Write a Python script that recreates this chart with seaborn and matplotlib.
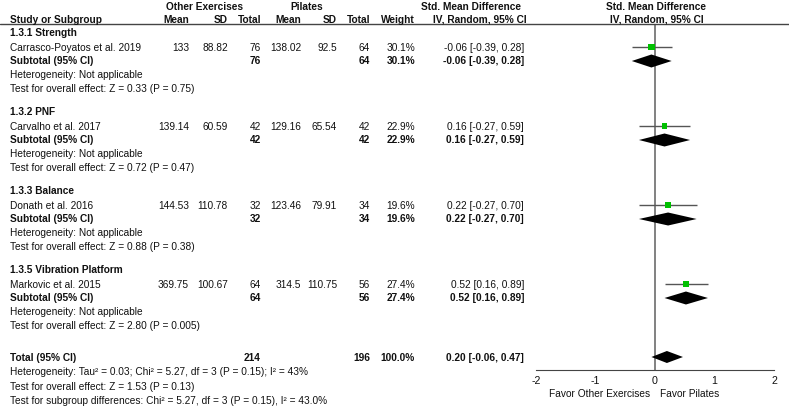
import numpy as np
import seaborn as sns
import matplotlib.pyplot as plt
from matplotlib.lines import Line2D

# Data
groups = ["1.3.1 Strength", "1.3.2 PNF", "1.3.3 Balance", "1.3.5 Vibration Platform"]
studies = ["Carrasco-Poyatos et al. 2019", "Carvalho et al. 2017",
           "Donath et al. 2016", "Markovic et al. 2015"]
oe_mean = [133, 139.14, 144.53, 369.75]
oe_sd = [88.82, 60.59, 110.78, 100.67]
oe_n = [76, 42, 32, 64]
pi_mean = [138.02, 129.16, 123.46, 314.5]
pi_sd = [92.5, 65.54, 79.91, 110.75]
pi_n = [64, 42, 34, 56]
weight = [30.1, 22.9, 19.6, 27.4]
smd = [-0.06, 0.16, 0.22, 0.52]
lo = [-0.39, -0.27, -0.27, 0.16]
hi = [0.28, 0.59, 0.70, 0.89]
z_tests = ["Z = 0.33 (P = 0.75)", "Z = 0.72 (P = 0.47)",
           "Z = 0.88 (P = 0.38)", "Z = 2.80 (P = 0.005)"]
total_n = [214, 196]
total_smd, total_lo, total_hi = 0.20, -0.06, 0.47
total_het = "Heterogeneity: Tau\u00b2 = 0.03; Chi\u00b2 = 5.27, df = 3 (P = 0.15); I\u00b2 = 43%"
total_test = "Test for overall effect: Z = 1.53 (P = 0.13)"
subgroup_test = "Test for subgroup differences: Chi\u00b2 = 5.27, df = 3 (P = 0.15), I\u00b2 = 43.0%"
ticks = [-2, -1, 0, 1, 2]

sns.set_style("white")
plt.rcParams['font.family'] = ['Liberation Sans', 'DejaVu Sans']
plt.rcParams['axes.unicode_minus'] = False
FS = 7.3

W, H = 789, 410
fig = plt.figure(figsize=(W / 100, H / 100), dpi=100)

# forest axes: x in effect units, y in pixel rows (top = 0)
x0, ppu = 655, 59.5
xl, xr = -2.15, 2.15
ax = fig.add_axes([(x0 + xl * ppu) / W, 0, (xr - xl) * ppu / W, 1])
ax.set_xlim(xl, xr)
ax.set_ylim(H, 0)


def txt(x, y, s, ha='left', bold=False):
    fig.text(x / W, 1 - y / H, s, ha=ha, va='center', fontsize=FS,
             fontweight='bold' if bold else 'normal', color='#111111')


def fmt(v):
    return f"{v:g}"


def ci(m, a, b):
    return f"{m:.2f} [{a:.2f}, {b:.2f}]"


# headers
txt(205, 7, "Other Exercises", ha='center', bold=True)
txt(307, 7, "Pilates", ha='center', bold=True)
txt(471, 7, "Std. Mean Difference", ha='center', bold=True)
txt(656, 7, "Std. Mean Difference", ha='center', bold=True)
txt(10, 20, "Study or Subgroup", bold=True)
for x, s in [(189, "Mean"), (228, "SD"), (261, "Total"), (301, "Mean"),
             (337, "SD"), (370, "Total"), (415, "Weight")]:
    txt(x, 20, s, ha='right', bold=True)
txt(480, 20, "IV, Random, 95% CI", ha='center', bold=True)
txt(657, 20, "IV, Random, 95% CI", ha='center', bold=True)
fig.add_artist(Line2D([0, 1], [1 - 25 / H] * 2, transform=fig.transFigure,
                      color='#444444', lw=1.0))

study_y = []
sub_y = []
for i, g in enumerate(groups):
    base = 33 + 79 * i
    sy, suby = base + 15, base + 28
    study_y.append(sy)
    sub_y.append(suby)
    txt(10, base, g, bold=True)
    txt(10, sy, studies[i])
    txt(189, sy, fmt(oe_mean[i]), ha='right')
    txt(228, sy, fmt(oe_sd[i]), ha='right')
    txt(261, sy, str(oe_n[i]), ha='right')
    txt(301, sy, fmt(pi_mean[i]), ha='right')
    txt(337, sy, fmt(pi_sd[i]), ha='right')
    txt(370, sy, str(pi_n[i]), ha='right')
    txt(415, sy, f"{weight[i]:.1f}%", ha='right')
    txt(524, sy, ci(smd[i], lo[i], hi[i]), ha='right')
    txt(10, suby, "Subtotal (95% CI)", bold=True)
    txt(261, suby, str(oe_n[i]), ha='right', bold=True)
    txt(370, suby, str(pi_n[i]), ha='right', bold=True)
    txt(415, suby, f"{weight[i]:.1f}%", ha='right', bold=True)
    txt(524, suby, ci(smd[i], lo[i], hi[i]), ha='right', bold=True)
    txt(10, base + 42, "Heterogeneity: Not applicable")
    txt(10, base + 56, "Test for overall effect: " + z_tests[i])

ty = 358
txt(10, ty, "Total (95% CI)", bold=True)
txt(261, ty, str(total_n[0]), ha='right', bold=True)
txt(370, ty, str(total_n[1]), ha='right', bold=True)
txt(415, ty, "100.0%", ha='right', bold=True)
txt(524, ty, ci(total_smd, total_lo, total_hi), ha='right', bold=True)
txt(10, 372, total_het)
txt(10, 387, total_test)
txt(10, 401, subgroup_test)

# zero line
ax.vlines(0, 25, 371, color='#777777', lw=1.3, zorder=1)

# study CIs and squares
ax.hlines(study_y, lo, hi, color='#555555', lw=1.0, zorder=2)
sns.scatterplot(x=smd, y=study_y, marker='s', color='#00c000',
                s=[w * 0.5 + 6 for w in weight], edgecolor='none', ax=ax,
                legend=False, zorder=3)


def diamond(m, a, b, y, h=6.5):
    ax.fill([a, m, b, m], [y, y - h, y, y + h], color='black', lw=0, zorder=3)


for i in range(len(groups)):
    diamond(smd[i], lo[i], hi[i], sub_y[i] + 1)
diamond(total_smd, total_lo, total_hi, ty, h=6)

# axis
ax.set_xticks(ticks)
ax.set_xticklabels([str(t) for t in ticks])
ax.set_yticks([])
for sp in ['top', 'left', 'right']:
    ax.spines[sp].set_visible(False)
ax.spines['bottom'].set_position(('data', 371))
ax.spines['bottom'].set_bounds(-2, 2)
ax.spines['bottom'].set_color('#444444')
ax.tick_params(axis='x', direction='inout', length=5, width=0.8,
               color='#444444', pad=1, labelcolor='#111111', labelsize=FS + 0.4)
ax.patch.set_alpha(0)
txt(650, 394, "Favor Other Exercises", ha='right')
txt(660, 394, "Favor Pilates")

fig.savefig("out.png", dpi=100)
